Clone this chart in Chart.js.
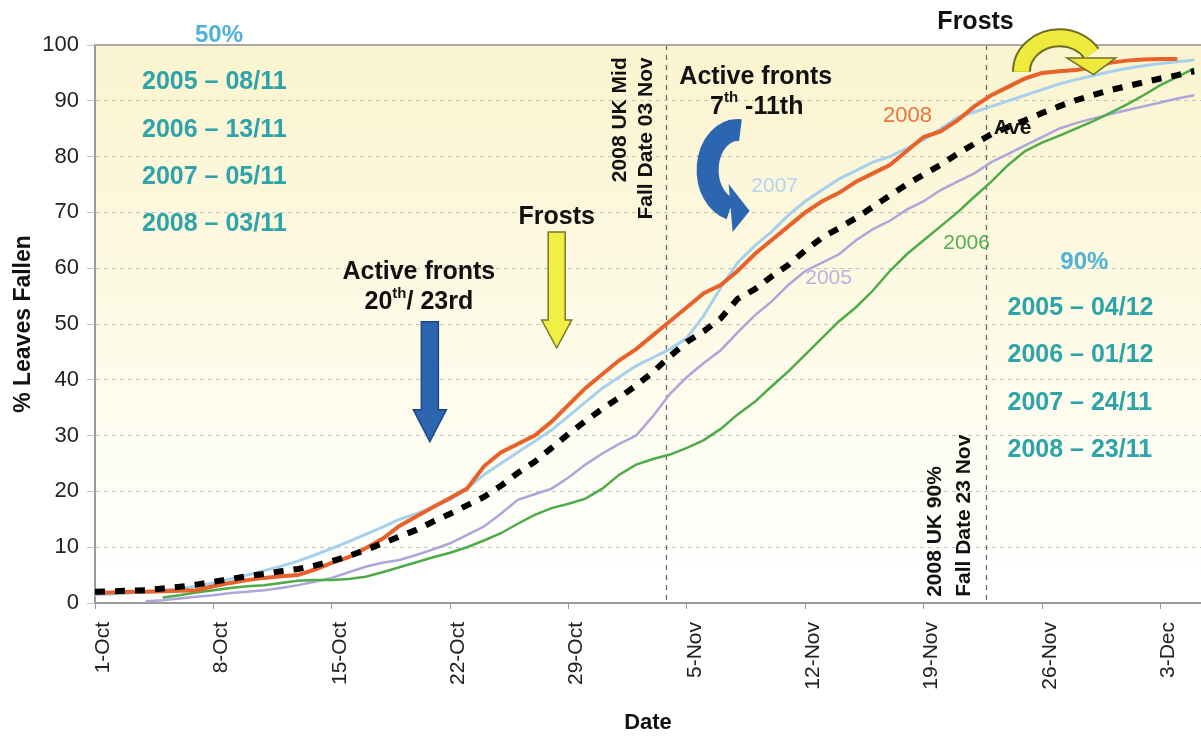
<!DOCTYPE html>
<html>
<head>
<meta charset="utf-8">
<script src="https://cdn.jsdelivr.net/npm/chart.js@4.4.1/dist/chart.umd.min.js"></script>
<style>
  html, body { margin: 0; padding: 0; background: #fff; }
  #wrap { width: 1201px; height: 736px; }
</style>
</head>
<body>
<div id="wrap"><canvas id="c" width="1201" height="736"></canvas></div>
<script>
// x = days since 1 Oct, one value per day (index = day)
const tickDays = [0, 7, 14, 21, 28, 35, 42, 49, 56, 63];
const tickLabels = ['1-Oct', '8-Oct', '15-Oct', '22-Oct', '29-Oct', '5-Nov', '12-Nov', '19-Nov', '26-Nov', '3-Dec'];

const y2008 = [1.8,1.9,2.0,2.0,2.1,2.2,2.3,3.0,3.6,4.1, 4.5,4.8,5.0,6.0,7.2,8.2,9.8,11.5,13.8,15.5,
  17.2,18.8,20.5,24.5,27.0,28.5,30.0,32.5,35.5,38.5, 41.0,43.5,45.5,48.0,50.5,53.0,55.5,57.0,59.5,62.5,
  65.0,67.5,70.0,72.0,73.5,75.5,77.0,78.5,81.0,83.5, 84.5,86.5,89.0,91.0,92.5,94.0,95.0,95.3,95.5,96.0,
  96.8,97.2,97.4,97.5,97.5,null];
const y2007 = [1.5,1.6,1.8,2.0,2.3,2.6,3.0,3.6,4.3,5.0, 5.8,6.6,7.5,8.6,9.8,11.0,12.3,13.6,15.0,16.0,
  17.2,18.5,20.5,23.0,25.0,27.0,29.0,31.0,33.5,36.0, 38.5,40.5,42.5,44.0,45.5,47.5,51.5,56.5,61.0,64.0,
  66.5,69.5,72.0,74.0,76.0,77.5,79.0,80.0,81.5,83.0, 85.0,87.0,88.0,89.0,90.0,91.0,92.0,93.0,93.8,94.5,
  95.2,95.8,96.3,96.7,97.0,97.3];
const y2006 = [null,null,null,null,1.0,1.4,1.9,2.3,2.7,3.0, 3.2,3.6,4.0,4.1,4.1,4.3,4.7,5.5,6.4,7.3,
  8.2,9.0,10.0,11.2,12.5,14.2,15.8,17.0,17.8,18.7, 20.5,23.0,24.8,25.8,26.6,27.8,29.2,31.2,33.8,36.0,
  38.8,41.5,44.5,47.5,50.5,53.0,56.0,59.5,62.5,65.0, 67.5,70.0,72.8,75.5,78.5,81.0,82.5,83.7,85.0,86.3,
  87.8,89.3,91.0,92.8,94.3,95.8];
const y2005 = [null,null,null,0.3,0.5,0.8,1.1,1.4,1.8,2.0, 2.3,2.7,3.2,3.8,4.5,5.5,6.5,7.2,7.7,8.6,
  9.6,10.7,12.2,13.7,16.0,18.5,19.5,20.5,22.5,24.8, 26.8,28.5,30.0,33.5,37.5,40.5,43.0,45.3,48.5,51.5,
  54.0,57.0,59.5,61.0,62.5,65.0,67.0,68.5,70.5,72.0, 74.0,75.5,77.0,79.0,80.5,82.0,83.5,85.0,86.0,86.8,
  87.6,88.3,89.0,89.7,90.4,91.0];
const yAve = [2.0,2.1,2.2,2.3,2.6,2.9,3.3,3.8,4.3,4.8, 5.2,5.7,6.1,6.7,7.5,8.4,9.5,10.7,11.9,13.1,
  14.6,16.0,17.5,19.0,21.0,23.3,25.3,27.8,30.3,32.6, 34.8,36.8,39.0,41.4,44.2,46.8,48.7,51.0,54.5,56.2,
  58.5,60.6,63.2,65.5,67.2,69.0,71.0,73.0,75.0,76.8, 78.5,80.5,82.3,84.0,85.3,86.5,87.8,89.0,90.1,91.0,
  91.9,92.6,93.3,94.0,94.6,95.3];

const fiftyPct = ['2005 \u2013 08/11', '2006 \u2013 13/11', '2007 \u2013 05/11', '2008 \u2013 03/11'];
const ninetyPct = ['2005 \u2013 04/12', '2006 \u2013 01/12', '2007 \u2013 24/11', '2008 \u2013 23/11'];
const midFallDay = 33.75;   // 3 Nov
const ninetyFallDay = 52.7; // 23 Nov

const FONT = '"Liberation Sans", Arial, Helvetica, sans-serif';
const TEAL = '#2ea3aa';
const SKY = '#4fb2d8';

const pts = arr => arr.map((v, i) => ({ x: i, y: v }));

function text(ctx, s, x, y, font, color, align) {
  ctx.font = font;
  ctx.fillStyle = color;
  ctx.textAlign = align || 'center';
  ctx.textBaseline = 'middle';
  ctx.fillText(s, x, y);
}

// text with superscripts, centred on cx
function rich(ctx, parts, cx, cy, size) {
  const big = 'bold ' + size + 'px ' + FONT, small = 'bold ' + Math.round(size * 0.6) + 'px ' + FONT;
  let w = 0;
  parts.forEach(p => { ctx.font = p.sup ? small : big; w += ctx.measureText(p.t).width; });
  let x = cx - w / 2;
  ctx.fillStyle = '#111';
  ctx.textAlign = 'left';
  ctx.textBaseline = 'middle';
  parts.forEach(p => {
    ctx.font = p.sup ? small : big;
    ctx.fillText(p.t, x, p.sup ? cy - size * 0.35 : cy);
    x += ctx.measureText(p.t).width;
  });
}

function downArrow(ctx, x, yTop, yTip, shaftW, headW, headL, fill, edge) {
  const yh = yTip - headL;
  ctx.beginPath();
  ctx.moveTo(x - shaftW / 2, yTop);
  ctx.lineTo(x + shaftW / 2, yTop);
  ctx.lineTo(x + shaftW / 2, yh);
  ctx.lineTo(x + headW / 2, yh);
  ctx.lineTo(x, yTip);
  ctx.lineTo(x - headW / 2, yh);
  ctx.lineTo(x - shaftW / 2, yh);
  ctx.closePath();
  ctx.fillStyle = fill;
  ctx.fill();
  ctx.lineWidth = 1.5;
  ctx.strokeStyle = edge;
  ctx.stroke();
}

function vtext(ctx, s, x, y, align) {
  ctx.save();
  ctx.translate(x, y);
  ctx.rotate(-Math.PI / 2);
  text(ctx, s, 0, 0, 'bold 21px ' + FONT, '#111', align);
  ctx.restore();
}

const decor = {
  id: 'decor',
  beforeDraw(chart) {
    const { ctx, chartArea: a } = chart;
    const g = ctx.createLinearGradient(0, a.top, 0, a.bottom);
    g.addColorStop(0, '#fbf4cf');
    g.addColorStop(0.55, '#fdfbe8');
    g.addColorStop(0.95, '#ffffff');
    ctx.save();
    ctx.fillStyle = g;
    ctx.fillRect(a.left, a.top, a.right - a.left, a.bottom - a.top);
    ctx.restore();
  },
  beforeDatasetsDraw(chart) {
    const { ctx, chartArea: a, scales: { x } } = chart;
    ctx.save();
    ctx.strokeStyle = '#6a6a6a';
    ctx.lineWidth = 1.3;
    ctx.setLineDash([5, 5]);
    [midFallDay, ninetyFallDay].forEach(d => {
      const px = Math.round(x.getPixelForValue(d)) + 0.5;
      ctx.beginPath();
      ctx.moveTo(px, a.top);
      ctx.lineTo(px, a.bottom);
      ctx.stroke();
    });
    ctx.setLineDash([]);
    // top frame line
    ctx.strokeStyle = '#a9a9a9';
    ctx.lineWidth = 2;
    ctx.beginPath();
    ctx.moveTo(a.left, a.top);
    ctx.lineTo(a.right, a.top);
    ctx.stroke();
    ctx.restore();
  },
  afterDatasetsDraw(chart) {
    const { ctx, scales: { x, y } } = chart;
    const X = d => x.getPixelForValue(d), Y = v => y.getPixelForValue(v);
    ctx.save();
    const B = n => 'bold ' + n + 'px ' + FONT;

    // 50% dates
    text(ctx, '50%', X(7.33), Y(101.8), B(24), SKY);
    [93.4, 84.8, 76.3, 67.9].forEach((v, i) => text(ctx, fiftyPct[i], X(2.78), Y(v), B(25), TEAL, 'left'));

    // 90% dates
    text(ctx, '90%', X(58.5), Y(61.1), B(24), SKY);
    [52.9, 44.4, 35.8, 27.4].forEach((v, i) => text(ctx, ninetyPct[i], X(53.96), Y(v), B(25), TEAL, 'left'));

    // vertical notes
    vtext(ctx, '2008 UK Mid', X(31.03), Y(97.8), 'right');
    vtext(ctx, 'Fall Date 03 Nov', X(32.57), Y(97.8), 'right');
    vtext(ctx, '2008 UK 90%', X(49.7), Y(1.1), 'left');
    vtext(ctx, 'Fall Date 23 Nov', X(51.42), Y(1.1), 'left');

    // series labels
    text(ctx, '2008', X(48.05), Y(87.3), '22px ' + FONT, '#ea7440');
    text(ctx, '2007', X(40.19), Y(74.7), '21px ' + FONT, '#b3d4ec');
    text(ctx, '2005', X(43.38), Y(58.2), '21px ' + FONT, '#b9b5dc');
    text(ctx, '2006', X(51.54), Y(64.5), '21px ' + FONT, '#55ad50');
    text(ctx, 'Ave', X(54.26), Y(85.1), B(21), '#111');

    // Active fronts 20th / 23rd with blue arrow
    text(ctx, 'Active fronts', X(19.15), Y(59.3), B(25), '#111');
    rich(ctx, [{ t: '20' }, { t: 'th', sup: true }, { t: '/ 23rd' }], X(19.15), Y(53.9), 25);
    downArrow(ctx, X(19.8), Y(50.4), Y(28.9), 17, 33, 32, '#2c66b0', '#1c477f');

    // Frosts with yellow arrow
    text(ctx, 'Frosts', X(27.3), Y(69.2), B(25), '#111');
    downArrow(ctx, X(27.3), Y(66.5), Y(45.7), 17, 30, 28, '#f1ee45', '#77772a');

    // Active fronts 7th - 11th with curved blue arrow
    text(ctx, 'Active fronts', X(39.07), Y(94.3), B(25), '#111');
    rich(ctx, [{ t: '7' }, { t: 'th', sup: true }, { t: ' -11th' }], X(39.13), Y(88.9), 25);
    {
      const cx = X(38.0), cy = Y(77.6);
      ctx.strokeStyle = '#2c66b0';
      ctx.lineWidth = 22;
      ctx.beginPath();
      ctx.ellipse(cx, cy, 30, 40, 0, -Math.PI * 0.47, Math.PI * 0.58, true);
      ctx.stroke();
      ctx.beginPath();
      ctx.moveTo(cx - 9, cy + 14);
      ctx.lineTo(cx + 12, cy + 41);
      ctx.lineTo(cx - 5, cy + 62);
      ctx.closePath();
      ctx.fillStyle = '#2c66b0';
      ctx.fill();
    }

    // Frosts (top) with curved yellow arrow
    text(ctx, 'Frosts', X(52.07), Y(104.1), B(25), '#111');
    {
      const cx = X(57.03), cy = Y(95.2);
      const head = () => {
        ctx.beginPath();
        ctx.moveTo(cx + 10, cy - 13);
        ctx.lineTo(cx + 54, cy - 13);
        ctx.lineTo(cx + 34, cy + 2);
        ctx.closePath();
      };
      ctx.strokeStyle = '#6e6e24';
      ctx.lineWidth = 19;
      ctx.beginPath();
      ctx.ellipse(cx, cy, 38, 34, 0, Math.PI, Math.PI * 1.82);
      ctx.stroke();
      head();
      ctx.lineWidth = 3;
      ctx.stroke();
      ctx.strokeStyle = '#eeea3e';
      ctx.lineWidth = 15;
      ctx.beginPath();
      ctx.ellipse(cx, cy, 38, 34, 0, Math.PI, Math.PI * 1.82);
      ctx.stroke();
      head();
      ctx.fillStyle = '#eeea3e';
      ctx.fill();
    }
    ctx.restore();
  }
};

new Chart(document.getElementById('c'), {
  type: 'line',
  data: {
    datasets: [
      { label: 'Ave', data: pts(yAve), borderColor: '#000', borderWidth: 6, borderDash: [10, 10] },
      { label: '2008', data: pts(y2008), borderColor: '#e8612b', borderWidth: 4 },
      { label: '2007', data: pts(y2007), borderColor: '#a6d0ec', borderWidth: 3 },
      { label: '2006', data: pts(y2006), borderColor: '#4eab48', borderWidth: 2.5 },
      { label: '2005', data: pts(y2005), borderColor: '#ada6d8', borderWidth: 2.5 }
    ]
  },
  options: {
    responsive: false,
    animation: false,
    devicePixelRatio: 1,
    layout: { padding: { top: 45, right: 0, left: 0, bottom: 0 } },
    elements: { point: { radius: 0 }, line: { tension: 0, fill: false } },
    plugins: { legend: { display: false }, tooltip: { enabled: false } },
    scales: {
      x: {
        type: 'linear', min: 0, max: 65.4,
        afterBuildTicks: s => { s.ticks = tickDays.map(v => ({ value: v })); },
        afterFit: s => { s.height = 133; },
        grid: { drawOnChartArea: false, drawTicks: true, tickLength: 6, tickColor: '#999' },
        border: { color: '#9a9a9a', width: 2 },
        ticks: {
          minRotation: 90, maxRotation: 90, padding: 13, labelOffset: 8,
          color: '#222', font: { family: FONT, size: 21 },
          callback: v => tickLabels[tickDays.indexOf(v)]
        },
        title: { display: true, text: 'Date', color: '#111', font: { family: FONT, size: 22, weight: 'bold' }, padding: { top: -3, bottom: 0 } }
      },
      y: {
        min: 0, max: 100,
        afterFit: s => { s.width = 95; },
        grid: { color: '#c4c4bc', lineWidth: 1, tickLength: 8, tickColor: '#c4c4bc' },
        border: { color: '#9a9a9a', width: 2, dash: [4, 4] },
        ticks: { stepSize: 10, padding: 8, color: '#222', font: { family: FONT, size: 22 } },
        title: { display: true, text: '% Leaves Fallen', color: '#111', font: { family: FONT, size: 23, weight: 'bold' }, padding: { top: 10, bottom: 0 } }
      }
    }
  },
  plugins: [decor]
});
</script>
</body>
</html>
